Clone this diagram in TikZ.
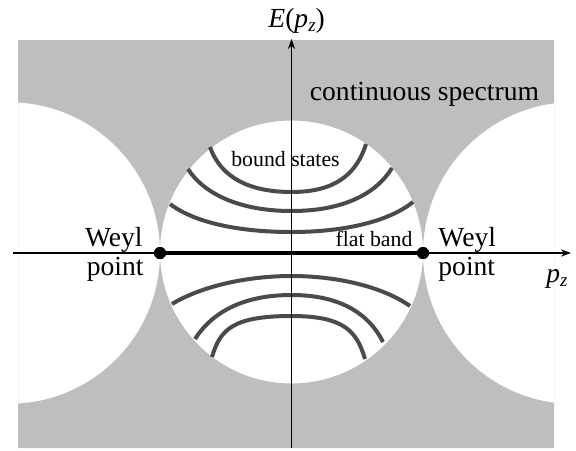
\documentclass[tikz,border=0pt]{standalone}
\usepackage{fontspec}
\setmainfont{Liberation Serif}
\usetikzlibrary{arrows.meta}
\definecolor{specgray}{HTML}{BEBEBE}
\definecolor{bandgray}{HTML}{4A4A4A}
\tikzset{
  axisline/.style={line width=0.65pt,-{Stealth[length=5pt,width=3.6pt]}},
  boundcurve/.style={line width=2pt,draw=bandgray},
  flatline/.style={line width=2pt,draw=black},
  weyldot/.style={circle,fill=black,inner sep=0pt,minimum size=6pt},
  biglabel/.style={inner sep=0pt,font=\fontsize{13.8}{16}\selectfont},
  smalllabel/.style={inner sep=0pt,font=\fontsize{10.9}{13}\selectfont}
}
\begin{document}
\begin{tikzpicture}[x=0.5pt,y=-0.5pt]
\useasboundingbox (0,0) rectangle (576,450);
% continuous spectrum
\begin{scope}
  \clip (18,40) rectangle (554,448);
  \fill[specgray,even odd rule] (18,40) rectangle (554,448)
    (9.25,253) circle[radius=150.75]
    (291.5,252) circle[radius=131.5]
    (574,253) circle[radius=151];
\end{scope}
% bound states
\draw[boundcurve] (210,147) .. controls (221,178) and (250,192) .. (291.5,192)
   .. controls (333,192) and (356,176) .. (366,144);
\draw[boundcurve] (188,169) .. controls (204,194) and (240,211) .. (291.5,211)
   .. controls (343,211) and (376,194) .. (392,168);
\draw[boundcurve] (170,204) .. controls (195,223) and (240,232) .. (291.5,232)
   .. controls (343,232) and (388,222) .. (413,202);
\draw[boundcurve] (172,304) .. controls (200,287) and (245,276) .. (291.5,276)
   .. controls (338,276) and (383,287) .. (410,306);
\draw[boundcurve] (195,339) .. controls (213,311) and (245,295) .. (291.5,295)
   .. controls (338,295) and (368,312) .. (383,342);
\draw[boundcurve] (212,357) .. controls (220,330) and (232,316) .. (291.5,316)
   .. controls (345,316) and (357,332) .. (365,359);
% axes
\coordinate (xstart) at (13,253);
\coordinate (xend) at (571,253);
\coordinate (ystart) at (291.5,448);
\coordinate (yend) at (291.5,39);
\draw[axisline] (xstart) -- (xend);
\draw[axisline] (ystart) -- (yend);
% Weyl points and flat band
\node[weyldot] (wl) at (160,253) {};
\node[weyldot] (wr) at (423,253) {};
\draw[flatline] (wl.center) -- (wr.center);
\node[weyldot] at (wl.center) {};
\node[weyldot] at (wr.center) {};
% labels
\node[biglabel,anchor=base west] (elab) at (268,27) {\itshape E\upshape(\itshape p\raisebox{-0.35ex}{\fontsize{9.5}{11}\selectfont\itshape z}\upshape)};
\node[biglabel,anchor=base west] (plab) at (546,282) {\itshape p\raisebox{-0.35ex}{\fontsize{9.5}{11}\selectfont\itshape z}};
\node[biglabel,anchor=base] (cont) at (424.5,100) {continuous spectrum};
\node[smalllabel,anchor=base] (bound) at (285.5,166) {bound states};
\node[smalllabel,anchor=base] (flat) at (374,246) {flat band};
\node[biglabel,anchor=base east] (wl1) at (143,246) {Weyl};
\node[biglabel,anchor=base east] (wl2) at (144,275) {point};
\node[biglabel,anchor=base west] (wr1) at (438,246) {Weyl};
\node[biglabel,anchor=base west] (wr2) at (438,275) {point};
\end{tikzpicture}
\end{document}
